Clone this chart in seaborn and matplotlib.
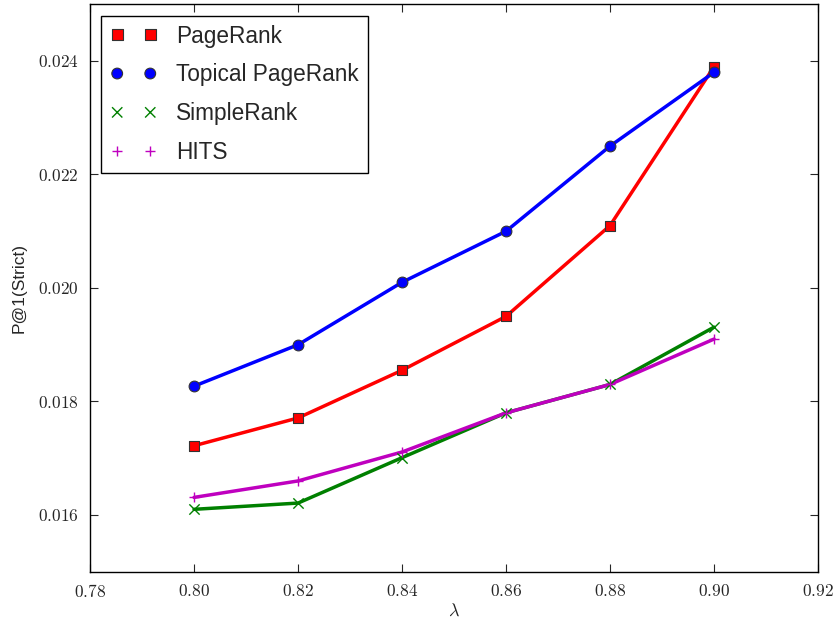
import numpy as np
import pandas as pd
import matplotlib
matplotlib.use("Agg")
import matplotlib.pyplot as plt
import seaborn as sns
from matplotlib.ticker import FuncFormatter

# Damping factor values and precision scores per ranking method
lambdas = [0.80, 0.82, 0.84, 0.86, 0.88, 0.90]
pagerank = [0.01722, 0.01771, 0.01855, 0.01950, 0.02110, 0.02390]
topical_pagerank = [0.01827, 0.01900, 0.02010, 0.02100, 0.02250, 0.02380]
simplerank = [0.01610, 0.01621, 0.01701, 0.01780, 0.01830, 0.01931]
hits = [0.01631, 0.01660, 0.01711, 0.01780, 0.01830, 0.01910]

methods = ["PageRank", "Topical PageRank", "SimpleRank", "HITS"]
series = [pagerank, topical_pagerank, simplerank, hits]

x_ticks = [0.78, 0.80, 0.82, 0.84, 0.86, 0.88, 0.90, 0.92]
y_ticks = [0.016, 0.018, 0.020, 0.022, 0.024]

df = pd.DataFrame({
    "lam": np.tile(lambdas, len(methods)),
    "score": np.concatenate(series),
    "method": np.repeat(methods, len(lambdas)),
})

sns.set_style("ticks")
plt.rcParams["mathtext.fontset"] = "cm"
plt.rcParams["font.family"] = ["Liberation Sans", "DejaVu Sans"]

colors = {"PageRank": "#ff0000", "Topical PageRank": "#0000ff",
          "SimpleRank": "#008000", "HITS": "#bf00bf"}
markers = {"PageRank": "s", "Topical PageRank": "o",
           "SimpleRank": "x", "HITS": "+"}

fig = plt.figure(figsize=(8.36, 6.22), dpi=100)
ax = fig.add_axes([0.1077, 0.0808, 0.8708, 0.9124])

# Connecting lines
sns.lineplot(data=df, x="lam", y="score", hue="method", palette=colors,
             hue_order=methods, linewidth=2.5, legend=False, ax=ax)

# Point markers (these carry the legend)
for m in methods:
    sub = df[df["method"] == m]
    filled = markers[m] in ("s", "o")
    kw = dict(edgecolor="#333333", linewidth=0.8) if filled else dict(linewidth=1.0)
    sns.scatterplot(data=sub, x="lam", y="score", color=colors[m],
                    marker=markers[m], s=60 if filled else 55, label=m,
                    ax=ax, zorder=5, **kw)

ax.set_xlim(0.78, 0.92)
ax.set_ylim(0.015, 0.025)
ax.set_xticks(x_ticks)
ax.set_yticks(y_ticks)
ax.xaxis.set_major_formatter(FuncFormatter(lambda v, p: r"$%.2f$" % v))
ax.yaxis.set_major_formatter(FuncFormatter(lambda v, p: r"$%.3f$" % v))
ax.tick_params(direction="in", top=True, right=True, length=6, width=0.8,
               labelsize=12.5, pad=8)
for sp in ax.spines.values():
    sp.set_visible(True)
    sp.set_linewidth(1.0)
    sp.set_color("black")

ax.set_xlabel(r"$\lambda$", fontsize=13, labelpad=2)
ax.set_ylabel("P@1(Strict)", fontsize=12.5, labelpad=8)

leg = ax.legend(loc="upper left", scatterpoints=2, scatteryoffsets=[0.5],
                fontsize=16.3, fancybox=False, frameon=True,
                edgecolor="black", framealpha=1, borderaxespad=0.5,
                handlelength=2.06, handletextpad=0.85,
                labelspacing=0.7, borderpad=0.4)
leg.get_frame().set_linewidth(1.0)

fig.savefig("out.png", dpi=100)
